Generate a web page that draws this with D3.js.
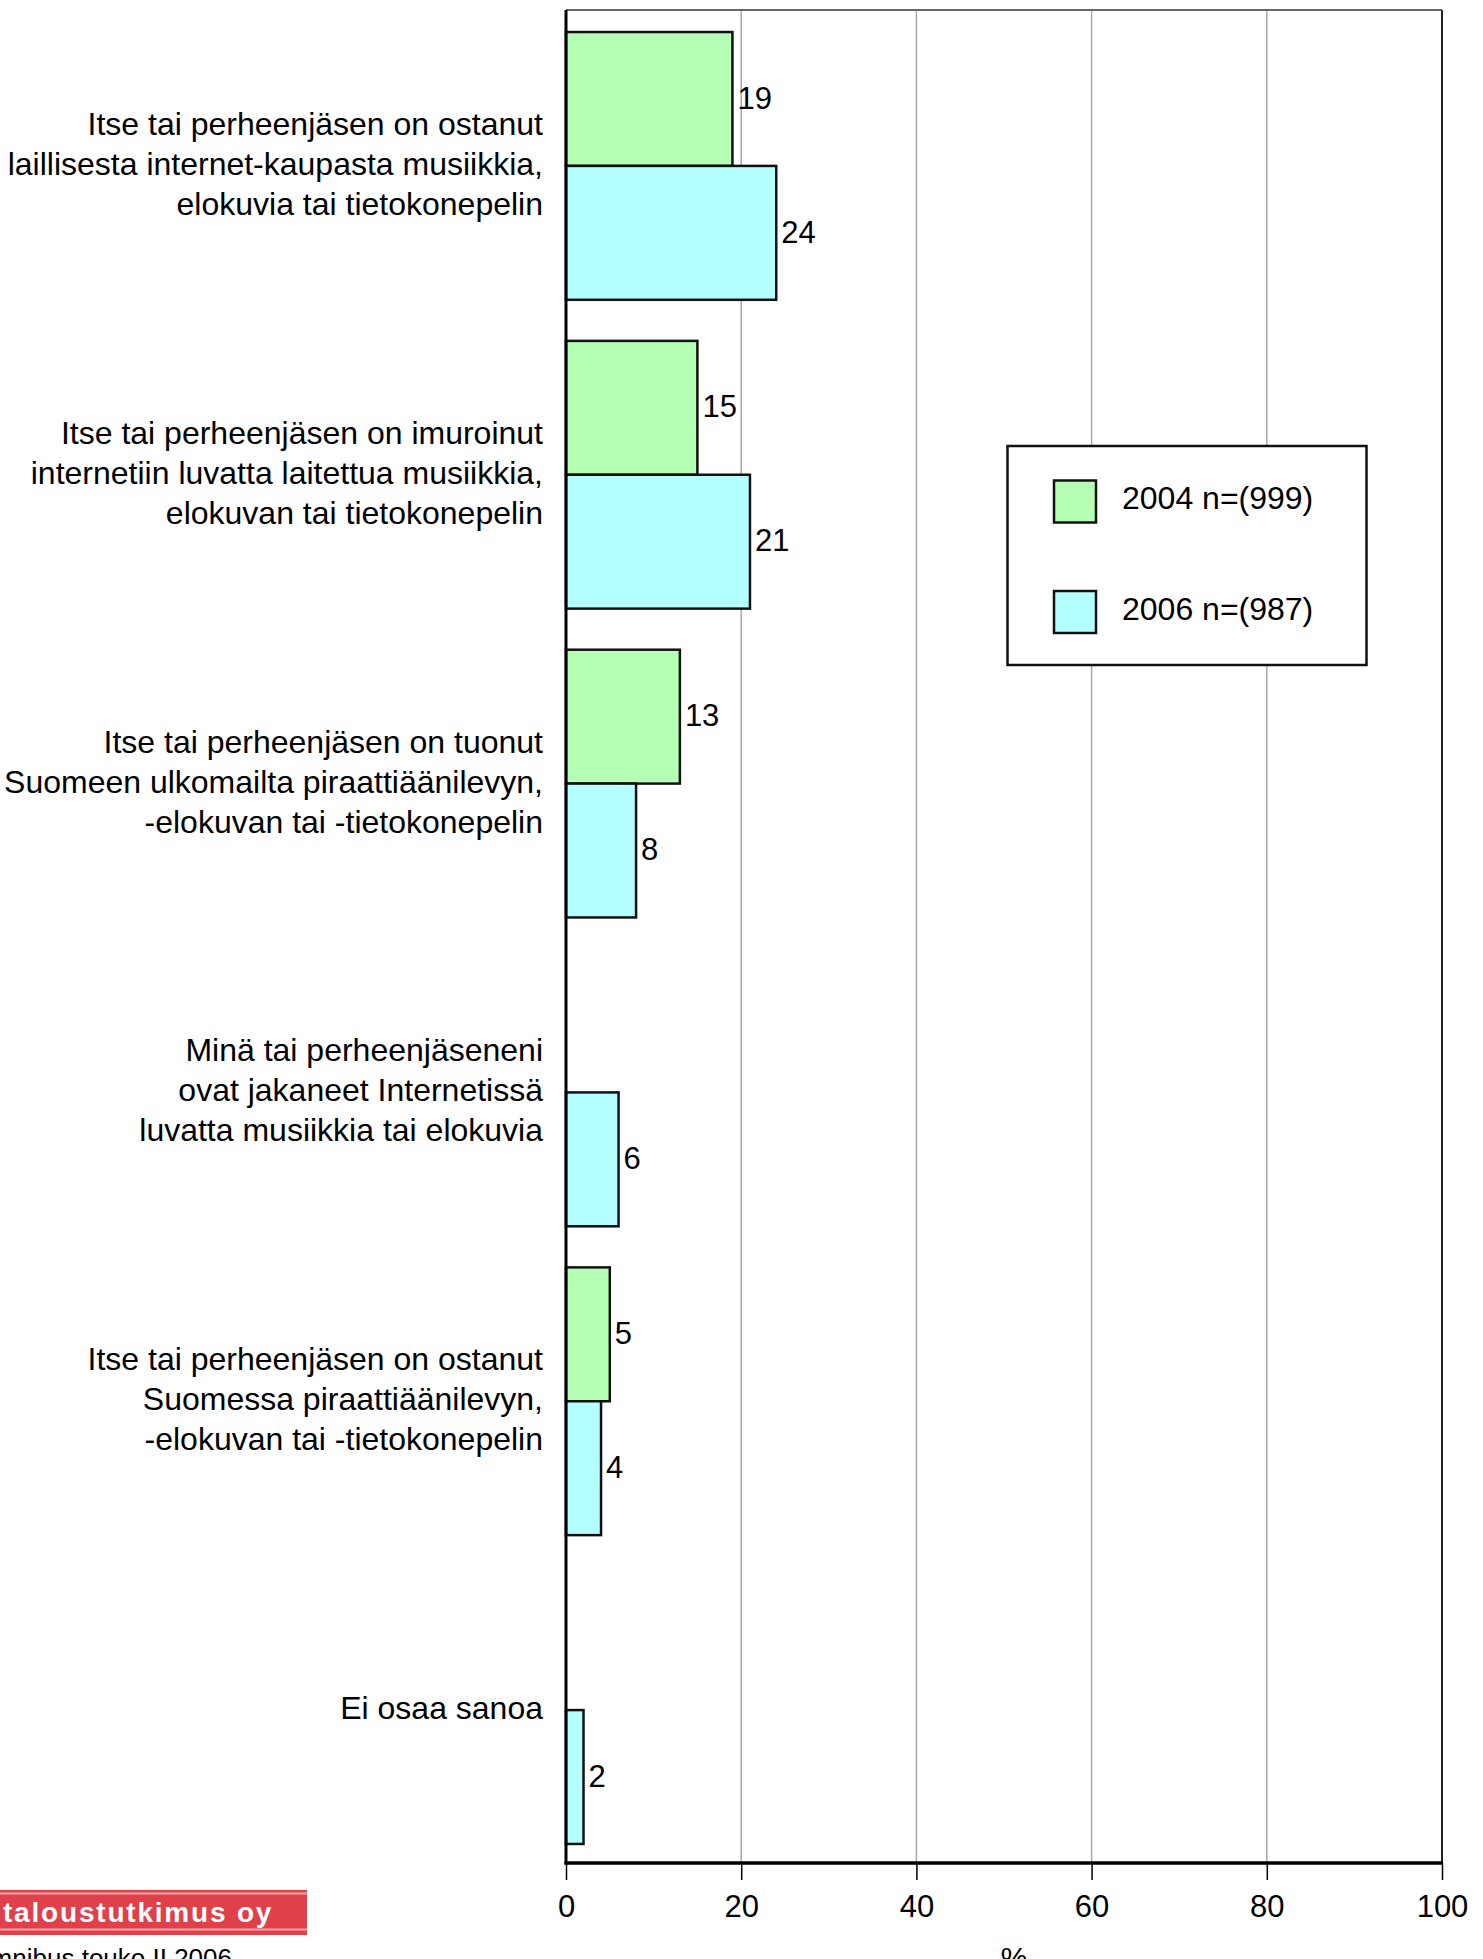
<!DOCTYPE html>
<html>
<head>
<meta charset="utf-8">
<script src="https://d3js.org/d3.v7.min.js"></script>
<style>
html,body{margin:0;padding:0;background:#fff;}
svg{display:block;font-family:"Liberation Sans",Arial,Helvetica,sans-serif;}
</style>
</head>
<body>
<script>
const categories = [
  "Itse tai perheenjäsen on ostanut\nlaillisesta internet-kaupasta musiikkia,\nelokuvia tai tietokonepelin",
  "Itse tai perheenjäsen on imuroinut\ninternetiin luvatta laitettua musiikkia,\nelokuvan tai tietokonepelin",
  "Itse tai perheenjäsen on tuonut\nSuomeen ulkomailta piraattiäänilevyn,\n-elokuvan tai -tietokonepelin",
  "Minä tai perheenjäseneni\novat jakaneet Internetissä\nluvatta musiikkia tai elokuvia",
  "Itse tai perheenjäsen on ostanut\nSuomessa piraattiäänilevyn,\n-elokuvan tai -tietokonepelin",
  "Ei osaa sanoa"
];
const seriesNames = ["2004 n=(999)", "2006 n=(987)"];
const values2004 = [19, 15, 13, null, 5, null];
const values2006 = [24, 21, 8, 6, 4, 2];
const xTicks = [0, 20, 40, 60, 80, 100];
const axisTitle = "%";
const logoText = "taloustutkimus oy";
const footText = "Omnibus touko II 2006";

(function () {
const colors = ["#b4ffb4", "#b4ffff"];
const W = 1483, H = 1959;
const pL = 566, pR = 1442, pT = 10, pB = 1863;

const svg = d3.select("body").append("svg").attr("width", W).attr("height", H);

const x = d3.scaleLinear().domain([0, 100]).range([pL, pR]);
const y = d3.scaleBand().domain(d3.range(categories.length)).range([pT, pB])
  .paddingInner(0.133).paddingOuter(0.0665);
const ys = d3.scaleBand().domain([0, 1]).range([0, y.bandwidth()]);

svg.append("g").selectAll("line").data(xTicks.filter(t => t > 0 && t < 100)).join("line")
  .attr("x1", d => x(d)).attr("x2", d => x(d)).attr("y1", pT).attr("y2", pB)
  .attr("stroke", "#a8a8a8").attr("stroke-width", 1.5);
svg.append("line").attr("x1", pL).attr("x2", pR).attr("y1", pT).attr("y2", pT)
  .attr("stroke", "#666").attr("stroke-width", 1.8);
svg.append("line").attr("x1", pR).attr("x2", pR).attr("y1", pT).attr("y2", pB)
  .attr("stroke", "#222").attr("stroke-width", 2);

const series = [values2004, values2006];
series.forEach((vals, s) => {
  const g = svg.append("g");
  const data = vals.map((v, i) => ({v, i})).filter(d => d.v != null);
  g.selectAll("rect").data(data).join("rect")
    .attr("x", x(0)).attr("y", d => y(d.i) + ys(s) + 1.5)
    .attr("width", d => x(d.v) - x(0)).attr("height", ys.bandwidth())
    .attr("fill", colors[s]).attr("stroke", "#111").attr("stroke-width", 2.5);
  g.selectAll("text").data(data).join("text")
    .attr("x", d => x(d.v) + 5).attr("y", d => y(d.i) + ys(s) + ys.bandwidth() / 2)
    .attr("dy", "0.36em").attr("font-size", 31).attr("fill", "#000")
    .text(d => d.v);
});

svg.append("line").attr("x1", pL).attr("x2", pL).attr("y1", pT).attr("y2", pB + 1.5)
  .attr("stroke", "#000").attr("stroke-width", 3);

const xAxis = d3.axisBottom(x).tickValues(xTicks).tickSize(17).tickPadding(15).tickFormat(d3.format("d"));
const ax = svg.append("g").attr("transform", `translate(0,${pB})`).call(xAxis);
ax.select(".domain").remove();
ax.selectAll(".tick line").attr("stroke", "#000").attr("stroke-width", 1.5);
ax.selectAll(".tick text").attr("font-size", 31).attr("fill", "#000")
  .attr("font-family", "'Liberation Sans',Arial,sans-serif");
svg.append("line").attr("x1", pL - 1.5).attr("x2", pR + 1).attr("y1", pB).attr("y2", pB)
  .attr("stroke", "#000").attr("stroke-width", 3.5);

svg.append("text").attr("x", 1014).attr("y", 1968).attr("text-anchor", "middle")
  .attr("font-size", 30).text(axisTitle);

const lh = 40;
categories.forEach((c, i) => {
  const lines = c.split("\n");
  const cy = y(i) + y.bandwidth() / 2;
  const t = svg.append("text").attr("text-anchor", "end").attr("font-size", 32).attr("fill", "#000");
  lines.forEach((ln, k) => {
    t.append("tspan").attr("x", 543).attr("y", cy - 1 + (k - (lines.length - 1) / 2) * lh).attr("dy", "0.36em").text(ln);
  });
});

const lg = svg.append("g");
lg.append("rect").attr("x", 1007.5).attr("y", 446).attr("width", 359).attr("height", 219)
  .attr("fill", "#fff").attr("stroke", "#111").attr("stroke-width", 2.5);
seriesNames.forEach((n, s) => {
  const yy = [501.5, 612][s];
  lg.append("rect").attr("x", 1054).attr("y", yy - 21).attr("width", 42).attr("height", 42)
    .attr("fill", colors[s]).attr("stroke", "#111").attr("stroke-width", 2.5);
  lg.append("text").attr("x", 1122).attr("y", yy - 4).attr("dy", "0.36em").attr("font-size", 32).text(n);
});

svg.append("rect").attr("x", 0).attr("y", 1890).attr("width", 307).attr("height", 45).attr("fill", "#e0404a");
svg.append("line").attr("x1", 0).attr("x2", 307).attr("y1", 1893.5).attr("y2", 1893.5).attr("stroke", "#f6a8ae").attr("stroke-width", 2);
svg.append("line").attr("x1", 0).attr("x2", 307).attr("y1", 1929.5).attr("y2", 1929.5).attr("stroke", "#f6a8ae").attr("stroke-width", 2);
svg.append("text").attr("x", 3).attr("y", 1922).attr("font-size", 28).attr("font-weight", "bold")
  .attr("fill", "#fff").attr("letter-spacing", 1.8).text(logoText);
svg.append("text").attr("x", 232).attr("y", 1967).attr("text-anchor", "end").attr("font-size", 26).text(footText);
})();
</script>
</body>
</html>
